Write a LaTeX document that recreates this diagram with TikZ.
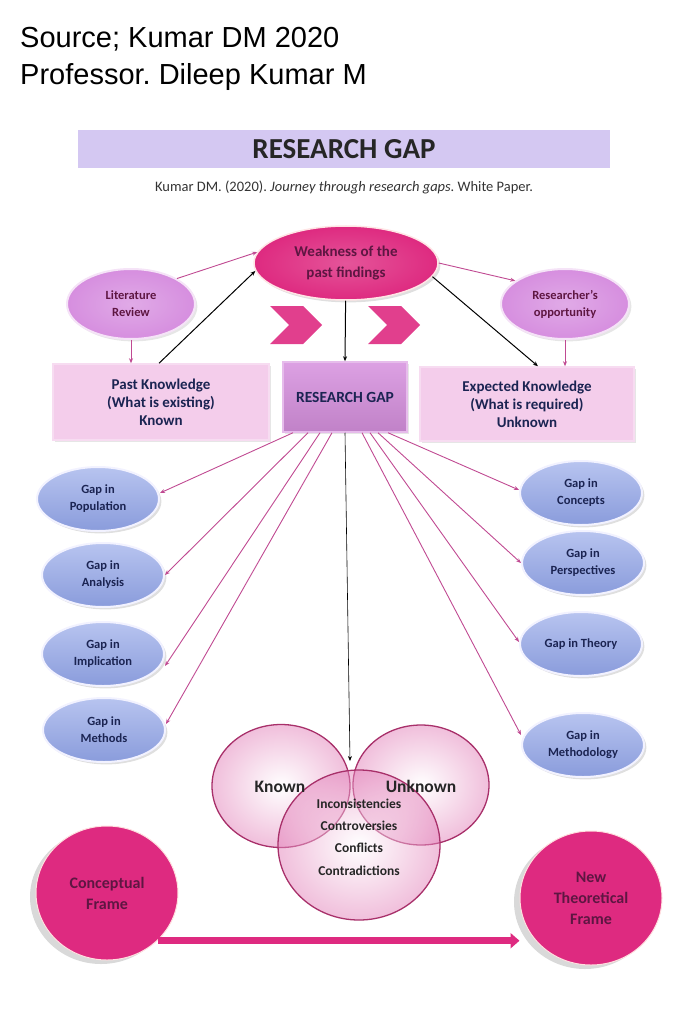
\documentclass[tikz,border=0pt]{standalone}
\usepackage{fontspec}
\setmainfont{Carlito}
\newfontfamily\headfont{Liberation Sans}
\usetikzlibrary{positioning, arrows.meta, shapes.geometric, shapes.symbols, shadows}
\definecolor{barlav}{HTML}{D4C8F2}
\definecolor{deeppink}{HTML}{DE2A80}
\definecolor{darkplum}{HTML}{5E1642}
\definecolor{orchid}{HTML}{D68EDF}
\definecolor{boxpink}{HTML}{F4CDEB}
\definecolor{gapbox}{HTML}{D690DE}
\definecolor{periwinkle}{HTML}{91A4E7}
\definecolor{navytext}{HTML}{1B2452}
\definecolor{linkpink}{HTML}{C04A92}
\definecolor{vennedge}{HTML}{A8306A}
\definecolor{vennpink}{HTML}{E27FB8}
\frenchspacing
\tikzset{
    >={Stealth[length=5pt,width=4pt]}, % small arrow heads
    every node/.style={align=center, font=\bfseries\fontsize{15}{21}\selectfont, text=navytext},
    bigoval/.style={ellipse, inner sep=0pt, inner color=deeppink!80!white, outer color=deeppink,
        draw=pink!40, line width=1.5pt, text=darkplum, drop shadow={opacity=0.25}}, % the pink ovals
    pinkoval/.style={ellipse, inner sep=0pt, inner color=orchid!75!white, outer color=orchid,
        draw=orchid!25, line width=2pt, text=darkplum, drop shadow={opacity=0.2},
        font=\bfseries\fontsize{12.5}{17}\selectfont},
    gapoval/.style={ellipse, inner sep=0pt, minimum width=122pt, minimum height=64pt,
        top color=periwinkle!65!white, bottom color=periwinkle!95!black, draw=blue!5,
        line width=2pt, drop shadow={opacity=0.25},
        font=\bfseries\fontsize{12.5}{17}\selectfont}, % blue gap ovals
    knowbox/.style={rectangle, fill=boxpink, draw=boxpink!70!white, line width=1.5pt,
        drop shadow={opacity=0.2}, font=\bfseries\fontsize{15}{18}\selectfont},
    vennring/.style={ellipse, inner sep=0pt, draw=vennedge, line width=1.3pt,
        inner color=white, outer color=vennpink, fill opacity=0.5, text opacity=1},
    framering/.style={ellipse, inner sep=0pt, minimum width=142pt, minimum height=134pt,
        fill=deeppink, draw=pink!50, line width=1pt, text=darkplum,
        drop shadow={opacity=0.3, shadow xshift=-6pt, shadow yshift=-4pt},
        font=\bfseries\fontsize{16}{21}\selectfont},
    chevron/.style={signal, signal to=east, signal from=west, fill=deeppink!90,
        minimum width=52pt, minimum height=38pt, inner sep=0pt},
    link/.style={draw=linkpink, line width=0.9pt, ->},
    blacklink/.style={draw=black, line width=1pt, ->},
}
\begin{document}
\begin{tikzpicture}[x=1pt, y=-1pt]
\useasboundingbox (0,0) rectangle (688,1024);
% header
\node[anchor=base west, font=\headfont\fontsize{29}{30}\selectfont, text=black, inner sep=0pt] (src) at (20,48) {Source; Kumar DM 2020};
\node[anchor=base west, font=\headfont\fontsize{29}{30}\selectfont, text=black, inner sep=0pt] (prof) at (20,85) {Professor. Dileep Kumar M};
\node[fill=barlav, minimum width=532pt, minimum height=38pt, text=black!85,
      font=\bfseries\fontsize{29}{30}\selectfont] (title) at (344,149) {RESEARCH GAP};
\node[font=\fontsize{14.5}{16}\selectfont, text=black!80] (cite) at (344,187)
     {Kumar DM. (2020). \textit{Journey through research gaps.} White Paper.};

% top row
\node[bigoval, minimum width=184pt, minimum height=74pt] (weak) at (346,263) {Weakness of the\\past findings};
\node[pinkoval, minimum width=128pt, minimum height=70pt] (lit) at (131,304) {Literature\\Review};
\node[pinkoval, minimum width=128pt, minimum height=70pt] (opp) at (565,304) {Researcher's\\opportunity};
\node[chevron] (chevl) at (296,325) {};
\node[chevron] (chevr) at (394,325) {};

\node[knowbox, minimum width=216pt, minimum height=76pt] (past) at (161,402) {Past Knowledge\\(What is existing)\\Known};
\node[knowbox, top color=gapbox!85!white, bottom color=gapbox!90!black, draw=gapbox!60!white,
      minimum width=124pt, minimum height=70pt,
      font=\bfseries\fontsize{15.5}{18}\selectfont] (gap) at (345,397) {RESEARCH GAP};
\node[knowbox, minimum width=214pt, minimum height=74pt] (exp) at (527,404) {Expected Knowledge\\(What is required)\\Unknown};

\draw[link] (lit) -- (lit |- past.north);
\draw[link] (lit.north east) -- (weak.173);
\draw[link] (weak.east) -- (opp.155);
\draw[link] (opp) -- (opp |- exp.north);
\draw[blacklink] ([xshift=-2pt]past.north) -- (weak.185);
\draw[blacklink] (weak) -- (gap.north);
\draw[blacklink] (weak.351) -- ([xshift=11pt]exp.north);

% gap ovals
\node[gapoval] (pop) at (98,499) {Gap in\\Population};
\node[gapoval] (ana) at (103,575) {Gap in\\Analysis};
\node[gapoval] (imp) at (103,654) {Gap in\\Implication};
\node[gapoval] (met) at (104,730) {Gap in\\Methods};
\node[gapoval] (con) at (581,493) {Gap in\\Concepts};
\node[gapoval] (per) at (583,563) {Gap in\\Perspectives};
\node[gapoval] (the) at (581,644) {Gap in Theory};
\node[gapoval] (mty) at (583,745) {Gap in\\Methodology};

\draw[link] ([xshift=-52pt]gap.south) -- ([yshift=6pt]pop.east);
\draw[link] ([xshift=-37pt]gap.south) -- (ana.east);
\draw[link] ([xshift=-25pt]gap.south) -- ([yshift=-12pt]imp.east);
\draw[link] ([xshift=-13pt]gap.south) -- ([yshift=6pt]met.east);
\draw[link] ([xshift=43pt]gap.south) -- ([yshift=3pt]con.west);
\draw[link] ([xshift=33pt]gap.south) -- (per.west);
\draw[link] ([xshift=25pt]gap.south) -- ([yshift=2pt]the.west);
\draw[link] ([xshift=17pt]gap.south) -- ([yshift=10pt]mty.west);

% venn
\node[vennring, minimum width=138pt, minimum height=123pt] (known) at (281,786) {};
\node[vennring, minimum width=136pt, minimum height=120pt] (unknown) at (421,785) {};
\node[vennring, minimum width=162pt, minimum height=150pt] (mid) at (359,845) {};
\node[font=\bfseries\fontsize{17.5}{20}\selectfont, text=black!85] (knownlbl) at (280,787) {Known};
\node[font=\bfseries\fontsize{17.5}{20}\selectfont, text=black!85] (unknownlbl) at (421,786) {Unknown};
\node[font=\bfseries\fontsize{13.5}{22.3}\selectfont, text=black!85] (issues) at (359,837)
     {Inconsistencies\\Controversies\\Conflicts\\Contradictions};
\coordinate (vennTop) at (350,761);
\draw[draw=black, line width=0.6pt, ->] (gap.south) -- (vennTop);

% frames
\node[framering] (concept) at (107,893) {Conceptual\\Frame};
\node[framering] (newframe) at (591,898) {New\\Theoretical\\Frame};
\draw[draw=deeppink, line width=7pt, -{Triangle[length=9pt,width=15pt]}]
     (concept.south east) -- (concept.south east -| newframe.west);
\end{tikzpicture}
\end{document}
